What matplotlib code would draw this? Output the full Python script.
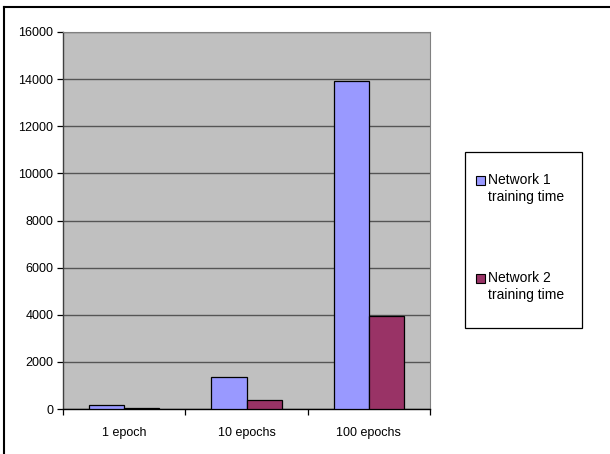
import numpy as np
import matplotlib.pyplot as plt
from matplotlib.patches import Rectangle
from matplotlib.lines import Line2D

plt.rcParams['font.family'] = ['Liberation Sans', 'DejaVu Sans']

categories = ['1 epoch', '10 epochs', '100 epochs']
net1_time = [150, 1350, 13900]
net2_time = [40, 390, 3960]
series_names = ['Network 1\ntraining time', 'Network 2\ntraining time']
colors = ['#9999FF', '#993366']

W, H = 610, 454
fig = plt.figure(figsize=(W / 100, H / 100), dpi=100)

def fx(px):
    return px / W

def fy(py):
    return 1 - py / H

ax = fig.add_axes([fx(63), fy(409), fx(430) - fx(63), fy(32) - fy(409)])
ax.set_facecolor('#C0C0C0')

x = np.arange(len(categories))
bw = 0.287
ax.bar(x - bw / 2, net1_time, bw, color=colors[0], edgecolor='black', linewidth=0.9, zorder=3)
ax.bar(x + bw / 2, net2_time, bw, color=colors[1], edgecolor='black', linewidth=0.9, zorder=3)

ax.set_xlim(-0.5, 2.5)
ax.set_ylim(0, 16000)
ax.set_yticks(np.arange(0, 16001, 2000))
ax.yaxis.grid(True, color='#555555', linewidth=1.0, zorder=1)
ax.set_axisbelow(True)

# category labels centred, tick marks between categories
ax.set_xticks(x)
ax.set_xticklabels(categories, fontsize=9)
ax.set_xticks(np.arange(-0.5, 2.6, 1.0), minor=True)
ax.tick_params(axis='x', which='major', length=0, pad=13)
ax.tick_params(axis='x', which='minor', length=4, width=0.9, color='black', direction='out')
ax.tick_params(axis='y', length=4, width=0.9, pad=3, labelsize=9, direction='out')

for s in ['top', 'right']:
    ax.spines[s].set_color('#808080')
    ax.spines[s].set_linewidth(0.8)
ax.spines['left'].set_color('#404040')
ax.spines['left'].set_linewidth(1.0)
ax.spines['bottom'].set_color('black')
ax.spines['bottom'].set_linewidth(1.0)

# legend box
fig.patches.append(Rectangle((fx(465), fy(328)), fx(582) - fx(465), fy(152) - fy(328),
                             transform=fig.transFigure, facecolor='white',
                             edgecolor='black', linewidth=0.9))
for i, (name, c) in enumerate(zip(series_names, colors)):
    ty = 180 + i * 98
    fig.patches.append(Rectangle((fx(476), fy(ty + 5)), fx(9), fx(9) * W / H,
                                 transform=fig.transFigure, facecolor=c,
                                 edgecolor='black', linewidth=0.8))
    fig.text(fx(488), fy(ty - 7), name, fontsize=10, va='top', ha='left',
             linespacing=1.3)

# outer chart frame
fig.add_artist(Line2D([fx(4), 1], [fy(7), fy(7)], color='black', linewidth=1.5))
fig.add_artist(Line2D([fx(4), fx(4)], [fy(7), 0], color='black', linewidth=1.5))

fig.savefig('out.png', dpi=100)
